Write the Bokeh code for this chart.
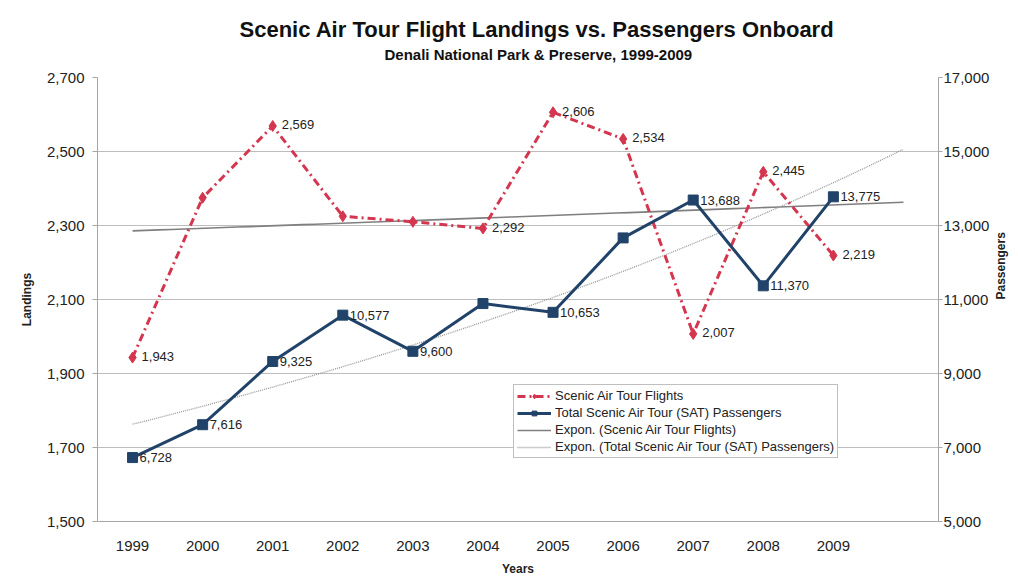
import numpy as np
from bokeh.plotting import figure
from bokeh.models import (Range1d, LinearAxis, FixedTicker, NumeralTickFormatter,
                          Title, Legend, LegendItem, ColumnDataSource)
from bokeh.core.properties import value
from bokeh.embed import file_html
from bokeh.resources import INLINE

# ---------------- data ----------------
years = [1999, 2000, 2001, 2002, 2003, 2004, 2005, 2006, 2007, 2008, 2009]
flights = [1943, 2375, 2569, 2325, 2310, 2292, 2606, 2534, 2007, 2445, 2219]
passengers = [6728, 7616, 9325, 10577, 9600, 10890, 10653, 12665, 13688, 11370, 13775]
flight_labeled = [True, False, True, False, False, True, True, True, True, True, True]
passenger_labeled = [True, True, True, True, True, False, True, False, True, True, True]
left_ticks = [1500, 1700, 1900, 2100, 2300, 2500, 2700]
right_ticks = [5000, 7000, 9000, 11000, 13000, 15000, 17000]
trend_end_year = 2010
title_text = "Scenic Air Tour Flight Landings vs. Passengers Onboard"
subtitle_text = "Denali National Park & Preserve, 1999-2009"

FONT = "Liberation Sans"
RED = "#D4354F"
NAVY = "#21436A"
GRID = "#BDBDBD"
AXIS = "#A6A6A6"
TXT = "#222222"

# exponential trend lines (least squares on log values, like Excel)
tx = np.linspace(years[0], trend_end_year, 60)
bf = np.polyfit(np.array(years, float), np.log(flights), 1)
bp = np.polyfit(np.array(years, float), np.log(passengers), 1)
trend_f = np.exp(np.polyval(bf, tx))
trend_p = np.exp(np.polyval(bp, tx))

p = figure(width=1018, height=582,
           x_range=Range1d(1998.5, 2010.5), y_range=Range1d(1500, 2700),
           output_backend="svg", toolbar_location=None,
           min_border_left=97, min_border_right=68, min_border_top=77, min_border_bottom=61,
           background_fill_color="white", border_fill_color="white",
           outline_line_color=None)
p.extra_y_ranges = {"pass": Range1d(5000, 17000)}

# titles: spacer first (closest to plot), then subtitle, then main title
p.add_layout(Title(text=" ", text_font=FONT, text_font_size="10px", standoff=0), "above")
p.add_layout(Title(text=subtitle_text, align="left", offset=287,
                   text_font=FONT, text_font_size="15px", text_font_style="bold",
                   text_color="#111111", standoff=4), "above")
p.add_layout(Title(text=title_text, align="left", offset=142,
                   text_font=FONT, text_font_size="22px", text_font_style="bold",
                   text_color="#111111", standoff=0), "above")

# x axis
xa = p.xaxis[0]
xa.ticker = FixedTicker(ticks=years)
xa.major_label_overrides = {y: str(y) for y in years}
xa.major_tick_line_color = None
xa.minor_tick_line_color = None
xa.axis_line_color = AXIS
xa.major_label_text_font = FONT
xa.major_label_text_font_size = "15px"
xa.major_label_text_color = TXT
xa.major_label_standoff = 13
xa.axis_label = "Years"
xa.axis_label_text_font = FONT
xa.axis_label_text_font_size = "12px"
xa.axis_label_text_font_style = "bold"
xa.axis_label_text_color = TXT
xa.axis_label_standoff = 8

# left y axis
ya = p.yaxis[0]
ya.ticker = FixedTicker(ticks=left_ticks)
ya.formatter = NumeralTickFormatter(format="0,0")
ya.major_tick_out = 5
ya.major_tick_in = 0
ya.major_tick_line_color = AXIS
ya.minor_tick_line_color = None
ya.axis_line_color = AXIS
ya.major_label_text_font = FONT
ya.major_label_text_font_size = "15px"
ya.major_label_text_color = TXT
ya.major_label_standoff = 8
ya.axis_label = "Landings"
ya.axis_label_text_font = FONT
ya.axis_label_text_font_size = "12px"
ya.axis_label_text_font_style = "bold"
ya.axis_label_text_color = TXT
ya.axis_label_standoff = 10

# right y axis
ra = LinearAxis(y_range_name="pass", ticker=FixedTicker(ticks=right_ticks),
                formatter=NumeralTickFormatter(format="0,0"))
ra.major_tick_out = 4
ra.major_tick_in = 0
ra.major_tick_line_color = AXIS
ra.minor_tick_line_color = None
ra.axis_line_color = AXIS
ra.major_label_text_font = FONT
ra.major_label_text_font_size = "15px"
ra.major_label_text_color = TXT
ra.major_label_standoff = 1
ra.axis_label = "Passengers"
ra.axis_label_text_font = FONT
ra.axis_label_text_font_size = "12px"
ra.axis_label_text_font_style = "bold"
ra.axis_label_text_color = TXT
ra.axis_label_standoff = 9
try:
    ra.axis_label_orientation = np.pi / 2   # read bottom-to-top like the reference
except Exception:
    pass
p.add_layout(ra, "right")

p.xgrid.visible = False
p.ygrid.ticker = FixedTicker(ticks=left_ticks)
p.ygrid.grid_line_color = GRID
p.ygrid.grid_line_width = 1

# trend lines
tr_f = p.line(tx, trend_f, line_color="#7F7F7F", line_width=1.6)
tr_p = p.line(tx, trend_p, line_color="#999999", line_width=1.3, line_dash="1 1",
              y_range_name="pass")

# flights series
fsrc = ColumnDataSource(dict(x=years, y=flights))
f_line = p.line("x", "y", source=fsrc, line_color=RED, line_width=3, line_dash="8 4 2 4")
f_pts = p.scatter("x", "y", source=fsrc, marker="diamond", size=11, fill_color=RED,
                  line_color=RED)

# passengers series
psrc = ColumnDataSource(dict(x=years, y=passengers))
p_line = p.line("x", "y", source=psrc, line_color=NAVY, line_width=3, y_range_name="pass")
p_pts = p.scatter("x", "y", source=psrc, marker="square", size=10, fill_color=NAVY,
                  line_color=NAVY, y_range_name="pass")

# data labels
fl = ColumnDataSource(dict(
    x=[x for x, k in zip(years, flight_labeled) if k],
    y=[v for v, k in zip(flights, flight_labeled) if k],
    t=[f"{v:,}" for v, k in zip(flights, flight_labeled) if k]))
p.text("x", "y", text="t", source=fl, x_offset=9, y_offset=-1, text_baseline="middle",
       text_font=value(FONT), text_font_size="13px", text_color=TXT)
pl = ColumnDataSource(dict(
    x=[x for x, k in zip(years, passenger_labeled) if k],
    y=[v for v, k in zip(passengers, passenger_labeled) if k],
    t=[f"{v:,}" for v, k in zip(passengers, passenger_labeled) if k]))
p.text("x", "y", text="t", source=pl, x_offset=7, y_offset=0, text_baseline="middle",
       text_font=value(FONT), text_font_size="13px", text_color=TXT, y_range_name="pass")

legend = Legend(items=[
    LegendItem(label="Scenic Air Tour Flights", renderers=[f_line, f_pts]),
    LegendItem(label="Total Scenic Air Tour (SAT) Passengers", renderers=[p_line, p_pts]),
    LegendItem(label="Expon. (Scenic Air Tour Flights)", renderers=[tr_f]),
    LegendItem(label="Expon. (Total Scenic Air Tour (SAT) Passengers)", renderers=[tr_p]),
], location=(416, 63))
legend.label_text_font = FONT
legend.label_text_font_size = "13px"
legend.label_text_color = TXT
legend.border_line_color = "#7F7F7F"
legend.border_line_width = 1
legend.background_fill_color = "white"
legend.background_fill_alpha = 1
legend.glyph_width = 34
legend.glyph_height = 12
legend.label_height = 12
legend.label_standoff = 4
legend.spacing = 2
legend.padding = 3
legend.margin = 0
p.add_layout(legend, "center")

open("out.html", "w").write(file_html(p, INLINE))
